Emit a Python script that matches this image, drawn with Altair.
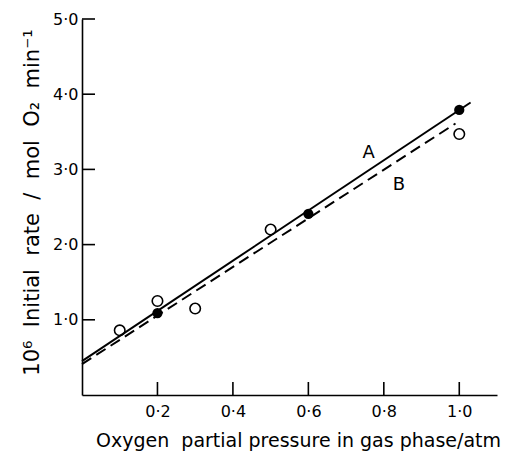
import altair as alt
import pandas as pd

# ---- data ----
line_a_x = [0.0, 1.03]
line_a_y = [0.45, 3.89]
line_b_x = [0.0, 0.99]
line_b_y = [0.41, 3.61]
open_x = [0.1, 0.2, 0.3, 0.5, 1.0]
open_y = [0.86, 1.25, 1.15, 2.20, 3.47]
filled_x = [0.2, 0.6, 1.0]
filled_y = [1.09, 2.41, 3.79]
label_text = ["A", "B"]
label_x = [0.76, 0.84]
label_y = [3.22, 2.79]
x_tick_values = [0.2, 0.4, 0.6, 0.8, 1.0]
x_tick_labels = ["0·2", "0·4", "0·6", "0·8", "1·0"]
y_tick_values = [1.0, 2.0, 3.0, 4.0, 5.0]
y_tick_labels = ["1·0", "2·0", "3·0", "4·0", "5·0"]
x_title = "Oxygen\u00a0 partial pressure in gas phase/atm"
y_title = "10⁶\u00a0\u00a0Initial\u00a0\u00a0rate\u00a0\u00a0/\u00a0\u00a0mol\u00a0\u00a0O₂\u00a0\u00a0min⁻¹"

FONT = "DejaVu Sans"
W, H = 415, 376


def label_expr(values, labels):
    expr = "''"
    for v, l in reversed(list(zip(values, labels))):
        expr = f"abs(datum.value - {v}) < 1e-6 ? '{l}' : ({expr})"
    return expr


xscale = alt.Scale(domain=[0, 1.1], nice=False, zero=False)
yscale = alt.Scale(domain=[0, 5.0], nice=False, zero=False)

xaxis = alt.Axis(
    values=x_tick_values, labelExpr=label_expr(x_tick_values, x_tick_labels),
    ticks=False, tickSize=0, grid=False, domainColor="black", domainWidth=1.6,
    labelFont=FONT, labelFontSize=16, labelColor="black", labelPadding=8,
    title=x_title, titleFont=FONT, titleFontSize=19, titleFontWeight="normal",
    titleColor="black", titleX=216, titleY=45, titleAlign="center",
    titleBaseline="middle", titleAnchor="middle",
)
yaxis = alt.Axis(
    values=y_tick_values, labelExpr=label_expr(y_tick_values, y_tick_labels),
    ticks=False, tickSize=0, grid=False, domainColor="black", domainWidth=1.6,
    labelFont=FONT, labelFontSize=16, labelColor="black", labelPadding=4,
    title=y_title, titleFont=FONT, titleFontSize=21, titleFontWeight="normal",
    titleColor="black", titleX=-50, titleY=183, titleAngle=270,
    titleAlign="center", titleBaseline="middle",
)


def X():
    return alt.X("x:Q", scale=xscale, axis=xaxis)


def Y():
    return alt.Y("y:Q", scale=yscale, axis=yaxis)


line_a = pd.DataFrame({"x": line_a_x, "y": line_a_y})
line_b = pd.DataFrame({"x": line_b_x, "y": line_b_y})
opens = pd.DataFrame({"x": open_x, "y": open_y})
filled = pd.DataFrame({"x": filled_x, "y": filled_y})
labels = pd.DataFrame({"x": label_x, "y": label_y, "t": label_text})
xt = pd.DataFrame({"x": x_tick_values})
yt = pd.DataFrame({"y": y_tick_values})

la = alt.Chart(line_a).mark_line(color="black", strokeWidth=2).encode(x=X(), y=Y())
lb = alt.Chart(line_b).mark_line(color="black", strokeWidth=2, strokeDash=[11, 6]).encode(x=X(), y=Y())
po = alt.Chart(opens).mark_point(shape="circle", filled=False, color="black",
                                 size=110, strokeWidth=1.6, opacity=1).encode(x=X(), y=Y())
pf = alt.Chart(filled).mark_point(shape="circle", filled=True, color="black",
                                  size=105, opacity=1).encode(x=X(), y=Y())
tx = alt.Chart(labels).mark_text(font=FONT, fontSize=18, color="black",
                                 align="center", baseline="middle").encode(x=X(), y=Y(), text="t:N")
xticks = alt.Chart(xt).mark_rule(color="black", strokeWidth=1.6).encode(
    x=X(), y=alt.value(H), y2=alt.value(H - 13))
yticks = alt.Chart(yt).mark_rule(color="black", strokeWidth=1.6).encode(
    y=Y(), x=alt.value(0), x2=alt.value(13))

chart = alt.layer(la, lb, po, pf, tx, xticks, yticks).properties(
    width=W, height=H,
    autosize=alt.AutoSizeParams(type="none"),
    padding={"left": 74, "top": 11, "right": 8, "bottom": 56},
    background="white",
).configure_view(stroke=None)

chart.save("out.html", embed_options={"renderer": "svg", "actions": False})
